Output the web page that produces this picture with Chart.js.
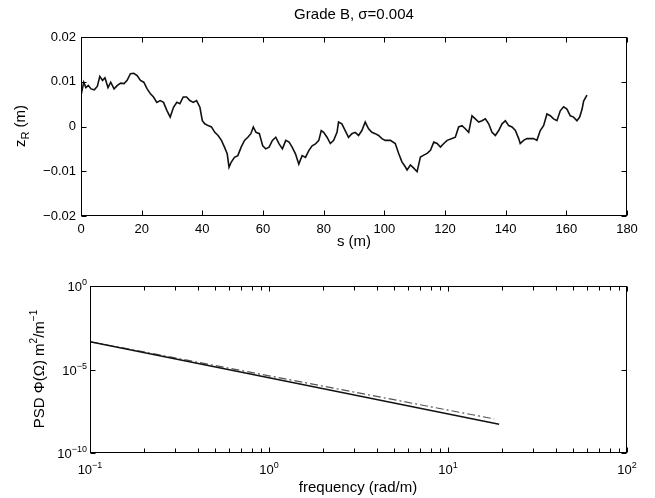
<!DOCTYPE html>
<html lang="en">
<head>
<meta charset="UTF-8">
<title>Grade B, σ=0.004</title>
<script src="https://cdn.jsdelivr.net/npm/chart.js@4.4.0/dist/chart.umd.min.js"></script>
<style>
    body { margin: 0; background: #fff; }
    #wrap { position: relative; width: 655px; height: 498px; }
    canvas { position: absolute; left: 0; }
    #profile { top: 0; }
    #psd { top: 250px; }
</style>
</head>
<body>
<div id="wrap">
    <canvas id="profile" width="655" height="250"></canvas>
    <canvas id="psd" width="655" height="248"></canvas>
</div>
<script>
// road profile z_R(s)
const sPos = [
    0, 0.9, 1.6, 2.4, 3.3, 4.4, 5.4, 6.2, 7.1, 7.9,
    8.9, 9.8, 10.9, 12.0, 13.1, 14.2, 15.2, 16.3, 17.4, 18.5,
    19.6, 20.7, 21.8, 22.9, 23.9, 25.0, 26.1, 27.2, 28.3, 29.4,
    30.5, 31.6, 32.6, 33.7, 34.8, 35.9, 37.0, 38.1, 39.2, 40.0,
    40.8, 41.9, 43.0, 44.1, 45.2, 46.3, 47.3, 48.2, 48.8, 49.5,
    50.6, 51.7, 52.8, 53.9, 55.0, 56.0, 56.8, 57.7, 58.8, 59.9,
    60.9, 62.0, 63.1, 64.2, 65.3, 66.4, 67.5, 68.6, 69.6, 70.7,
    71.8, 72.9, 74.0, 75.1, 76.2, 77.3, 78.4, 79.2, 80.0, 81.1,
    82.2, 83.3, 84.4, 84.9, 86.0, 87.1, 88.2, 89.3, 90.4, 91.5,
    92.6, 93.7, 94.8, 95.9, 97.0, 98.1, 99.2, 100.3, 102.0, 103.6,
    104.7, 105.8, 106.9, 107.5, 108.6, 109.7, 110.8, 111.9, 113.0, 114.1,
    115.2, 116.3, 117.4, 118.5, 119.6, 120.7, 122.3, 123.4, 124.5, 125.6,
    126.7, 127.8, 128.9, 130.0, 131.1, 132.2, 133.3, 134.4, 135.5, 136.6,
    137.7, 138.8, 139.9, 141.0, 142.1, 143.2, 144.3, 144.8, 145.9, 147.0,
    148.1, 149.2, 150.3, 151.4, 152.5, 153.6, 154.7, 155.8, 156.9, 158.0,
    159.1, 160.2, 161.3, 162.4, 163.5, 164.4, 165.2, 165.7, 166.8
];
const zR = [
    0.0069, 0.0099, 0.0087, 0.0092, 0.0084, 0.0082, 0.0090, 0.0112, 0.0103, 0.0109,
    0.0087, 0.0099, 0.0084, 0.0092, 0.0097, 0.0096, 0.0103, 0.0118, 0.0119, 0.0114,
    0.0103, 0.0099, 0.0084, 0.0073, 0.0066, 0.0054, 0.0058, 0.0054, 0.0036, 0.0021,
    0.0043, 0.0054, 0.0051, 0.0066, 0.0066, 0.0058, 0.0054, 0.0058, 0.0043, 0.0013,
    0.0006, 0.0002, -0.0001, -0.0013, -0.0020, -0.0031, -0.0046, -0.0061, -0.0091, -0.0080,
    -0.0069, -0.0065, -0.0046, -0.0031, -0.0024, -0.0016, -0.0001, -0.0013, -0.0016, -0.0043,
    -0.0050, -0.0046, -0.0031, -0.0024, -0.0039, -0.0050, -0.0031, -0.0035, -0.0046, -0.0061,
    -0.0084, -0.0065, -0.0069, -0.0054, -0.0043, -0.0039, -0.0031, -0.0009, -0.0013, -0.0024,
    -0.0038, -0.0031, -0.0013, 0.0010, 0.0006, -0.0009, -0.0024, -0.0016, -0.0013, -0.0020,
    -0.0009, 0.0010, -0.0005, -0.0013, -0.0016, -0.0020, -0.0027, -0.0031, -0.0031, -0.0038,
    -0.0060, -0.0079, -0.0090, -0.0097, -0.0086, -0.0093, -0.0101, -0.0068, -0.0064, -0.0060,
    -0.0053, -0.0035, -0.0038, -0.0046, -0.0038, -0.0031, -0.0027, -0.0024, -0.0001, 0.0002,
    -0.0005, -0.0013, 0.0024, 0.0017, 0.0010, 0.0013, 0.0017, 0.0006, -0.0013, -0.0020,
    -0.0009, 0.0006, 0.0013, 0.0002, -0.0001, -0.0009, -0.0027, -0.0038, -0.0031, -0.0027,
    -0.0027, -0.0027, -0.0031, -0.0009, 0.0002, 0.0028, 0.0024, 0.0017, 0.0013, 0.0035,
    0.0044, 0.0039, 0.0024, 0.0021, 0.0013, 0.0021, 0.0039, 0.0057, 0.0070
];
const sTicks = [0, 20, 40, 60, 80, 100, 120, 140, 160, 180];
const zTicks = [-0.02, -0.01, 0, 0.01, 0.02];

// PSD, straight lines on log-log axes
const freqSim = [0.1, 1, 19.3];
const psdSim = [4.6e-4, 3.2e-6, 5.2e-9];
const freqIso = [0.1, 1, 18.1];
const psdIso = [4.6e-4, 4.2e-6, 1.1e-8];
const freqTicks = [0.1, 1, 10, 100];
const psdTicks = [1e-10, 1e-5, 1];

const FONT = "'Liberation Sans', Arial, Helvetica, sans-serif";

// box round the axes with inward ticks on all four sides (matlab style)
const framePlugin = {
    id: 'frame',
    afterDraw(chart, args, opts) {
        const { ctx, chartArea: a, scales } = chart;
        ctx.save();
        ctx.strokeStyle = '#000';
        ctx.lineWidth = 1;
        const L = Math.round(a.left) + 0.5, R = Math.round(a.right) - 0.5;
        const T = Math.round(a.top) + 0.5, B = Math.round(a.bottom) - 0.5;
        ctx.strokeRect(L, T, R - L, B - T);
        ctx.beginPath();
        const xt = (v, len) => {
            const p = Math.round(scales.x.getPixelForValue(v)) + 0.5;
            ctx.moveTo(p, B); ctx.lineTo(p, B - len);
            ctx.moveTo(p, T); ctx.lineTo(p, T + len);
        };
        const yt = (v, len) => {
            const p = Math.round(scales.y.getPixelForValue(v)) + 0.5;
            ctx.moveTo(L, p); ctx.lineTo(L + len, p);
            ctx.moveTo(R, p); ctx.lineTo(R - len, p);
        };
        opts.xMajor.forEach(v => xt(v, 5));
        (opts.xMinor || []).forEach(v => xt(v, 4));
        opts.yMajor.forEach(v => yt(v, 5));
        ctx.stroke();
        ctx.restore();
    }
};

// draw a run of text pieces [text, size, dy] starting at x (left aligned)
function drawParts(ctx, parts, x, y, baseSize) {
    parts.forEach(p => {
        ctx.font = (p[1] || baseSize) + 'px ' + FONT;
        ctx.fillText(p[0], x, y + (p[2] || 0));
        x += ctx.measureText(p[0]).width;
    });
}
function partsWidth(ctx, parts, baseSize) {
    let w = 0;
    parts.forEach(p => { ctx.font = (p[1] || baseSize) + 'px ' + FONT; w += ctx.measureText(p[0]).width; });
    return w;
}

// titles and axis labels, with sub/superscripts
const textPlugin = {
    id: 'texts',
    afterDraw(chart, args, opts) {
        const ctx = chart.ctx;
        ctx.save();
        ctx.fillStyle = '#000';
        ctx.textBaseline = 'middle';
        ctx.textAlign = 'left';
        opts.items.forEach(it => {
            const w = partsWidth(ctx, it.parts, it.size);
            ctx.save();
            ctx.translate(it.x, it.y);
            if (it.rotate) ctx.rotate(-Math.PI / 2);
            drawParts(ctx, it.parts, -w / 2, 0, it.size);
            ctx.restore();
        });
        ctx.restore();
    }
};

// 10^n tick labels for the log axes, placed at the library's tick pixels
const powTicksPlugin = {
    id: 'powTicks',
    afterDraw(chart) {
        const { ctx, chartArea: a, scales } = chart;
        ctx.save();
        ctx.fillStyle = '#000';
        ctx.textBaseline = 'alphabetic';
        ctx.textAlign = 'left';
        const lab = v => {
            const e = Math.round(Math.log10(v));
            return [['10'], [e < 0 ? '\u2212' + (-e) : String(e), 9, -6]];
        };
        scales.x.ticks.forEach(t => {
            const parts = lab(t.value);
            const w = partsWidth(ctx, parts, 13);
            const px = scales.x.getPixelForValue(t.value);
            drawParts(ctx, parts, px - w / 2, a.bottom + 21, 13);
        });
        scales.y.ticks.forEach(t => {
            const parts = lab(t.value);
            const w = partsWidth(ctx, parts, 13);
            const py = scales.y.getPixelForValue(t.value);
            drawParts(ctx, parts, a.left - 3 - w, py + 5, 13);
        });
        ctx.restore();
    }
};

const tickFont = { family: FONT, size: 13 };

new Chart(document.getElementById('profile'), {
    type: 'line',
    data: {
        datasets: [{
            data: sPos.map((s, i) => ({ x: s, y: zR[i] })),
            borderColor: '#111',
            borderWidth: 1.6,
            pointRadius: 0,
            tension: 0
        }]
    },
    options: {
        responsive: false,
        devicePixelRatio: 1,
        animation: false,
        layout: { padding: { left: 0, top: 37, right: 28, bottom: 0 } },
        plugins: {
            legend: { display: false },
            tooltip: { enabled: false },
            frame: { xMajor: sTicks, yMajor: zTicks },
            texts: {
                items: [
                    { x: 354, y: 15, size: 15, parts: [['Grade B, \u03C3=0.004']] },
                    { x: 354, y: 242, size: 15, parts: [['s (m)']] },
                    { x: 21, y: 126, size: 15, rotate: true, parts: [['z'], ['R', 11, 5], [' (m)']] }
                ]
            }
        },
        scales: {
            x: {
                type: 'linear', min: 0, max: 180,
                afterBuildTicks: s => { s.ticks = sTicks.map(v => ({ value: v })); },
                afterFit: s => { s.height = 34; },
                grid: { display: false, drawTicks: false },
                border: { display: false },
                ticks: { color: '#000', font: tickFont, padding: 6, maxRotation: 0 }
            },
            y: {
                type: 'linear', min: -0.02, max: 0.02,
                afterBuildTicks: s => { s.ticks = zTicks.map(v => ({ value: v })); },
                afterFit: s => { s.width = 81; },
                grid: { display: false, drawTicks: false },
                border: { display: false },
                ticks: {
                    color: '#000', font: tickFont, padding: 5,
                    callback: v => v === 0 ? '0' : (v < 0 ? '\u2212' : '') + Math.abs(v).toFixed(2)
                }
            }
        }
    },
    plugins: [framePlugin, textPlugin]
});

// minor ticks of the log frequency axis
const freqMinor = [];
[0.1, 1, 10].forEach(d => { for (let k = 2; k <= 9; k++) freqMinor.push(d * k); });

new Chart(document.getElementById('psd'), {
    type: 'line',
    data: {
        datasets: [{
            data: freqSim.map((f, i) => ({ x: f, y: psdSim[i] })),
            borderColor: '#111',
            borderWidth: 1.5,
            pointRadius: 0
        }, {
            data: freqIso.map((f, i) => ({ x: f, y: psdIso[i] })),
            borderColor: '#555',
            borderWidth: 1.2,
            borderDash: [8, 3, 2, 3],
            pointRadius: 0
        }]
    },
    options: {
        responsive: false,
        devicePixelRatio: 1,
        animation: false,
        layout: { padding: { left: 0, top: 36, right: 28, bottom: 0 } },
        plugins: {
            legend: { display: false },
            tooltip: { enabled: false },
            frame: { xMajor: freqTicks, xMinor: freqMinor, yMajor: psdTicks },
            texts: {
                items: [
                    { x: 358, y: 238, size: 15, parts: [['frequency (rad/m)']] },
                    { x: 40, y: 119, size: 15, rotate: true,
                      parts: [['PSD \u03A6(\u03A9) m'], ['2', 10, -6], ['/m'], ['\u22121', 10, -6]] }
                ]
            }
        },
        scales: {
            x: {
                type: 'logarithmic', min: 0.1, max: 100,
                afterBuildTicks: s => { s.ticks = freqTicks.map(v => ({ value: v })); },
                afterFit: s => { s.height = 45; },
                grid: { display: false, drawTicks: false },
                border: { display: false },
                ticks: { display: false }
            },
            y: {
                type: 'logarithmic', min: 1e-10, max: 1,
                afterBuildTicks: s => { s.ticks = psdTicks.map(v => ({ value: v })); },
                afterFit: s => { s.width = 90; },
                grid: { display: false, drawTicks: false },
                border: { display: false },
                ticks: { display: false }
            }
        }
    },
    plugins: [framePlugin, textPlugin, powTicksPlugin]
});
</script>
</body>
</html>
